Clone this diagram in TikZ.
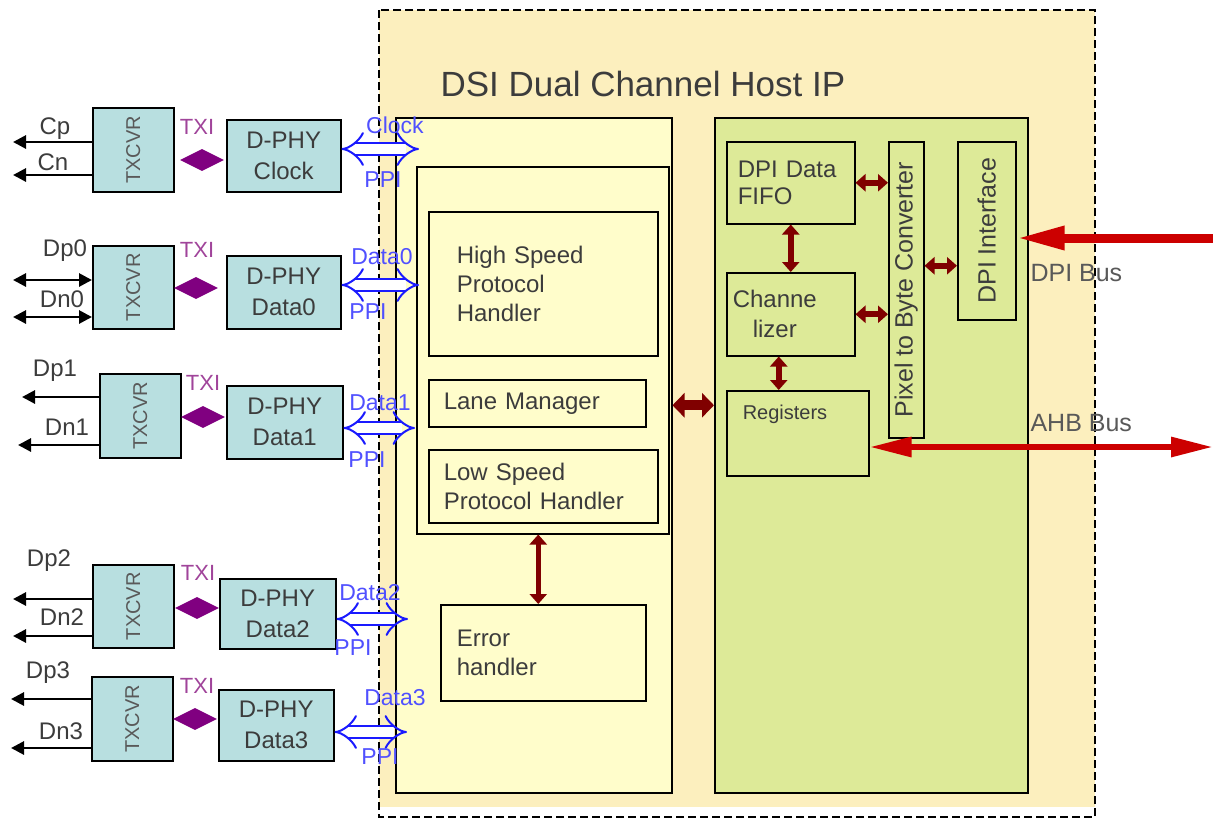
\documentclass[tikz,border=0pt]{standalone}
\usepackage{xcolor}
\usepackage{fontspec}
\setmainfont{Liberation Sans}
\usepackage{tikz}
\usetikzlibrary{arrows.meta,calc,shapes.geometric}
\definecolor{hostBej}{HTML}{FCEFBE}
\definecolor{solSari}{HTML}{FFFDCB}
\definecolor{sagYesil}{HTML}{DDEA98}
\definecolor{phyMavi}{HTML}{B8DFE0}
\definecolor{koyuKirmizi}{HTML}{800000}
\definecolor{busKirmizi}{HTML}{CC0000}
\definecolor{txiMor}{HTML}{800080}
\definecolor{txiYazi}{HTML}{A0449A}
\definecolor{ppiMavi}{HTML}{1A1AFF}
\definecolor{ppiYazi}{HTML}{5050FF}
\definecolor{yaziGri}{HTML}{3C3C3C}
\tikzset{
  blok/.style={draw=black,line width=1.5pt,inner sep=0pt,anchor=north west,text=yaziGri},
  phy/.style={blok,fill=phyMavi,align=center,font=\fontsize{24}{31}\selectfont},
  txcvr/.style={blok,fill=phyMavi,text=yaziGri!85,font=\fontsize{20}{24}\selectfont},
  sariBlok/.style={blok,fill=solSari,align=left,font=\fontsize{24}{29}\selectfont},
  yesilBlok/.style={blok,fill=sagYesil,align=left,font=\fontsize{24}{27}\selectfont},
  txiKare/.style={diamond,fill=txiMor,minimum width=44pt,minimum height=22pt,inner sep=0pt},
  pin/.style={text=yaziGri,font=\fontsize{24}{26}\selectfont},
  txiEtiket/.style={text=txiYazi,font=\fontsize{22}{24}\selectfont},
  ppiEtiket/.style={text=ppiYazi,font=\fontsize{23}{25}\selectfont},
  busEtiket/.style={text=yaziGri!85,anchor=west,font=\fontsize{25}{28}\selectfont},
  cikis/.style={line width=2.8pt,-{Triangle[length=13pt,width=13pt]}},
  ciftCikis/.style={line width=2.8pt,{Triangle[length=13pt,width=13pt]}-{Triangle[length=13pt,width=13pt]}},
  ppiOk/.style={draw=ppiMavi,line width=2pt,double=white,double distance=10pt,
    {Implies[length=11pt,width=36pt]}-{Implies[length=11pt,width=36pt]}},
  icOk/.style={koyuKirmizi,line width=6pt,{Triangle[length=10pt,width=17pt]}-{Triangle[length=10pt,width=17pt]}},
  kalinOk/.style={koyuKirmizi,line width=10pt,{Triangle[length=12pt,width=24pt]}-{Triangle[length=12pt,width=24pt]}},
  dpiOk/.style={busKirmizi,line width=9pt,-{Triangle[length=48pt,width=22pt]}},
  ahbOk/.style={busKirmizi,line width=6pt,{Triangle[length=42pt,width=19pt]}-{Triangle[length=42pt,width=19pt]}}
}

\begin{document}
\begin{tikzpicture}[x=1pt,y=-1pt]
\useasboundingbox (0,0) rectangle (1213,820);
% host IP cercevesi
\fill[hostBej] (379,10) rectangle (1095,807);
\draw[line width=2.6pt,dash pattern=on 8pt off 4pt] (379,10) rectangle (1095,817);
\node[text=yaziGri,anchor=west,font=\fontsize{35}{40}\selectfont] (baslik) at (437,84) {DSI Dual Channel Host IP};

% sol blok
\node[sariBlok,minimum width=276,minimum height=675] (solBlok) at (395,117) {};
\node[sariBlok,minimum width=252,minimum height=367] (icBlok) at (416,166) {};
\node[sariBlok,minimum width=229,minimum height=144,text width=173,inner xsep=28] (hizli) at (428,211) {High Speed\\Protocol\\Handler};
\node[sariBlok,minimum width=217,minimum height=47,text width=187,inner xsep=15] (serit) at (428,379) {Lane Manager};
\node[sariBlok,minimum width=229,minimum height=73,text width=199,inner xsep=15] (yavas) at (428,449) {Low Speed\\Protocol Handler};
\node[sariBlok,minimum width=205,minimum height=96,text width=173,inner xsep=16] (hata) at (440,604) {Error\\handler};

% sag blok
\node[yesilBlok,minimum width=313,minimum height=675] (yesil) at (714,117) {};
\node[yesilBlok,minimum width=128,minimum height=82,text width=106,inner xsep=11] (fifo) at (726,141) {DPI Data\\FIFO};
\node[yesilBlok,minimum width=128,minimum height=83,text width=116,inner xsep=6] (kanal) at (726,272) {Channe\\[3pt]\hspace*{20pt}lizer};
\node[yesilBlok,minimum width=142,text width=110,inner xsep=16,text height=29pt,text depth=56pt,font=\fontsize{20}{24}\selectfont] (kayit) at (726,390) {Registers};
\node[yesilBlok,minimum width=35,minimum height=296,align=center,font=\fontsize{25}{28}\selectfont] (pbc) at (888,141) {\rotatebox{90}{Pixel to Byte Converter}};
\node[yesilBlok,minimum width=58,minimum height=178,align=center,font=\fontsize{25}{28}\selectfont] (dpiArayuz) at (957,141) {\rotatebox{90}{DPI Interface}};

% D-PHY satirlari
\node[txcvr,minimum width=81,minimum height=84] (txKlk) at (92,107) {\rotatebox{90}{TXCVR}};
\node[phy,minimum width=114,minimum height=72] (phyKlk) at (226,119) {D-PHY\\Clock};
\node[txiKare] (txiKlk) at (202,160) {};
\node[txcvr,minimum width=81,minimum height=83] (tx0) at (92,245) {\rotatebox{90}{TXCVR}};
\node[phy,minimum width=114,minimum height=73] (phy0) at (226,255) {D-PHY\\Data0};
\node[txiKare] (txi0) at (196,288) {};
\node[txcvr,minimum width=81,minimum height=84] (tx1) at (99,373) {\rotatebox{90}{TXCVR}};
\node[phy,minimum width=116,minimum height=73] (phy1) at (226,385) {D-PHY\\Data1};
\node[txiKare] (txi1) at (203,417) {};
\node[txcvr,minimum width=81,minimum height=83] (tx2) at (92,564) {\rotatebox{90}{TXCVR}};
\node[phy,minimum width=116,minimum height=70] (phy2) at (219,578) {D-PHY\\Data2};
\node[txiKare] (txi2) at (197,608) {};
\node[txcvr,minimum width=81,minimum height=84] (tx3) at (91,676) {\rotatebox{90}{TXCVR}};
\node[phy,minimum width=115,minimum height=71] (phy3) at (218,689) {D-PHY\\Data3};
\node[txiKare] (txi3) at (195,719) {};

\node[txiEtiket] (lTxiKlk) at (197,127) {TXI};
\node[txiEtiket] (lTxi0) at (197,250) {TXI};
\node[txiEtiket] (lTxi1) at (203,383) {TXI};
\node[txiEtiket] (lTxi2) at (198,573) {TXI};
\node[txiEtiket] (lTxi3) at (197,686) {TXI};

% pin cikislari
\coordinate (cp) at (13,142);
\coordinate (cn) at (13,175);
\coordinate (dp0) at (13,280);
\coordinate (dn0) at (13,317);
\coordinate (dp1) at (22,397);
\coordinate (dn1) at (18,445);
\coordinate (dp2) at (13,599);
\coordinate (dn2) at (13,636);
\coordinate (dp3) at (11,699);
\coordinate (dn3) at (11,748);
\draw[cikis] (txKlk.west |- cp) -- (cp);
\draw[cikis] (txKlk.west |- cn) -- (cn);
\draw[ciftCikis] (tx0.west |- dp0) -- (dp0);
\draw[ciftCikis] (tx0.west |- dn0) -- (dn0);
\draw[cikis] (tx1.west |- dp1) -- (dp1);
\draw[cikis] (tx1.west |- dn1) -- (dn1);
\draw[cikis] (tx2.west |- dp2) -- (dp2);
\draw[cikis] (tx2.west |- dn2) -- (dn2);
\draw[cikis] (tx3.west |- dp3) -- (dp3);
\draw[cikis] (tx3.west |- dn3) -- (dn3);
\node[pin] (lCp) at (55,129) {Cp};
\node[pin] (lCn) at (53,162) {Cn};
\node[pin] (lDp0) at (65,251) {Dp0};
\node[pin] (lDn0) at (62,299) {Dn0};
\node[pin] (lDp1) at (55,371) {Dp1};
\node[pin] (lDn1) at (67,427) {Dn1};
\node[pin] (lDp2) at (49,561) {Dp2};
\node[pin] (lDn2) at (62,617) {Dn2};
\node[pin] (lDp3) at (48,673) {Dp3};
\node[pin] (lDn3) at (61,731) {Dn3};

% PPI oklari
\coordinate (ppiKlk) at (419,149);
\coordinate (ppi0) at (419,285);
\coordinate (ppi1) at (415,428);
\coordinate (ppi2) at (408,619);
\coordinate (ppi3) at (407,732);
\draw[ppiOk] (phyKlk.east |- ppiKlk) -- (ppiKlk);
\draw[ppiOk] (phy0.east |- ppi0) -- (ppi0);
\draw[ppiOk] (phy1.east |- ppi1) -- (ppi1);
\draw[ppiOk] (phy2.east |- ppi2) -- (ppi2);
\draw[ppiOk] (phy3.east |- ppi3) -- (ppi3);
\node[ppiEtiket] (lKlk) at (395,125) {Clock};
\node[ppiEtiket] (lPpiKlk) at (383,180) {PPI};
\node[ppiEtiket] (lData0) at (382,257) {Data0};
\node[ppiEtiket] (lPpi0) at (368,312) {PPI};
\node[ppiEtiket] (lData1) at (380,403) {Data1};
\node[ppiEtiket] (lPpi1) at (367,460) {PPI};
\node[ppiEtiket] (lData2) at (370,593) {Data2};
\node[ppiEtiket] (lPpi2) at (353,648) {PPI};
\node[ppiEtiket] (lData3) at (395,698) {Data3};
\node[ppiEtiket] (lPpi3) at (380,757) {PPI};

% ic baglantilar
\draw[icOk] (fifo.east) -- (fifo.east -| pbc.west);
\draw[icOk] (kanal.east) -- (kanal.east -| pbc.west);
\draw[icOk] ([yshift=24pt]pbc.east) -- ([yshift=24pt]pbc.east -| dpiArayuz.west);
\draw[icOk] (fifo.south) -- (kanal.north);
\draw[icOk] ([xshift=-12pt]kanal.south) -- ([xshift=-12pt]kanal.south |- kayit.north);
\draw[kalinOk] ([yshift=50pt]solBlok.east) -- ([yshift=50pt]solBlok.east -| yesil.west);
\draw[icOk,line width=4.5pt] ([xshift=-5pt]hata.north) -- ([xshift=-5pt]hata.north |- icBlok.south);

% dis buslar
\coordinate (dpiUc) at (1213,238);
\coordinate (ahbUc) at (1213,447);
\draw[dpiOk] (dpiUc) -- (dpiArayuz.east |- dpiUc);
\draw[ahbOk] (kayit.east |- ahbUc) -- (ahbUc);
\node[busEtiket] (lDpiBus) at (1027,273) {DPI Bus};
\node[busEtiket] (lAhbBus) at (1027,423) {AHB Bus};
\end{tikzpicture}
\end{document}
